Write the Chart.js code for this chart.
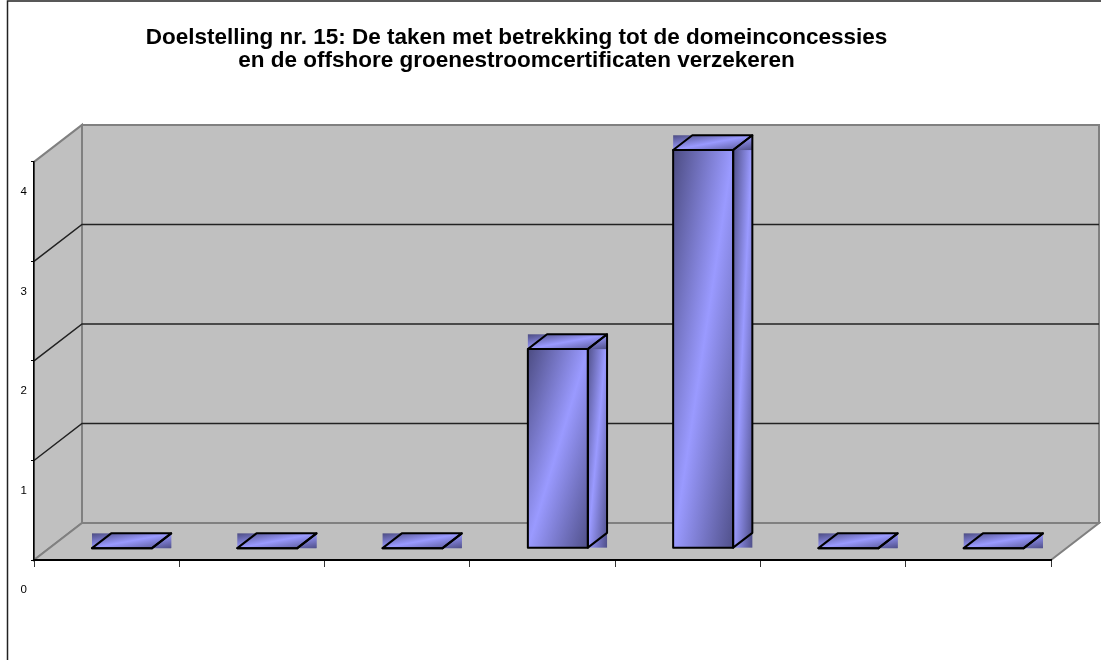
<!DOCTYPE html>
<html>
<head>
<meta charset="utf-8">
<script src="https://cdn.jsdelivr.net/npm/chart.js@4.4.1/dist/chart.umd.min.js"></script>
<style>
  html, body { margin: 0; padding: 0; background: #fff; }
  #wrap { width: 1101px; height: 660px; }
</style>
</head>
<body>
<div id="wrap"><canvas id="myChart" width="1101" height="660"></canvas></div>
<script>
// chart data
const categories = ['1', '2', '3', '4', '5', '6', '7'];
const values = [0, 0, 0, 2, 4, 0, 0];
const yTicks = [0, 1, 2, 3, 4];
const titleLines = [
  'Doelstelling nr. 15: De taken met betrekking tot de domeinconcessies',
  'en de offshore groenestroomcertificaten verzekeren'
];

// 3D depth of the walls (pixels), bar front/back position inside that depth
const DX = 48, DY = -37;
const F0 = 0.32, F1 = 0.72;

function poly(ctx, pts) {
  ctx.beginPath();
  ctx.moveTo(pts[0][0], pts[0][1]);
  for (let i = 1; i < pts.length; i++) ctx.lineTo(pts[i][0], pts[i][1]);
  ctx.closePath();
}

// Excel-like diagonal gradient: dark corners, light band along the diagonal
function diagFill(ctx, x0, y0, x1, y1) {
  const w = x1 - x0, h = y1 - y0;
  if (w <= 0 || h <= 0) return;
  const len = Math.sqrt(w * w + h * h);
  const d = w * h / len;
  const nx = h / len, ny = w / len;
  const cx = (x0 + x1) / 2, cy = (y0 + y1) / 2;
  const g = ctx.createLinearGradient(cx - nx * d, cy - ny * d, cx + nx * d, cy + ny * d);
  g.addColorStop(0, '#4c4c82');
  g.addColorStop(0.5, '#9a9aff');
  g.addColorStop(1, '#50508a');
  ctx.fillStyle = g;
  ctx.fillRect(x0, y0, w, h);
}

const walls3d = {
  id: 'walls3d',
  beforeDraw(chart) {
    const ctx = chart.ctx;
    const a = chart.chartArea;
    const yScale = chart.scales.y;
    ctx.save();
    ctx.fillStyle = '#fff';
    ctx.fillRect(0, 0, chart.width, chart.height);

    // outer frame
    ctx.strokeStyle = '#222';
    ctx.lineWidth = 1.5;
    ctx.beginPath();
    ctx.moveTo(7.5, chart.height);
    ctx.lineTo(7.5, 1);
    ctx.lineTo(chart.width, 1);
    ctx.stroke();

    const L = a.left, R = a.right, T = a.top, B = a.bottom;
    ctx.fillStyle = '#c0c0c0';
    ctx.strokeStyle = '#808080';
    ctx.lineWidth = 2;
    // back wall
    poly(ctx, [[L + DX, T + DY], [R + DX, T + DY], [R + DX, B + DY], [L + DX, B + DY]]);
    ctx.fill(); ctx.stroke();
    // side wall
    poly(ctx, [[L, T], [L + DX, T + DY], [L + DX, B + DY], [L, B]]);
    ctx.fill(); ctx.stroke();
    // floor
    poly(ctx, [[L, B], [R, B], [R + DX, B + DY], [L + DX, B + DY]]);
    ctx.fill(); ctx.stroke();

    // gridlines on the walls
    ctx.strokeStyle = '#222';
    ctx.lineWidth = 1.5;
    yTicks.forEach(function(v) {
      if (v === yTicks[0] || v === yTicks[yTicks.length - 1]) return;
      const py = yScale.getPixelForValue(v);
      ctx.beginPath();
      ctx.moveTo(L, py);
      ctx.lineTo(L + DX, py + DY);
      ctx.lineTo(R + DX, py + DY);
      ctx.stroke();
    });
    ctx.restore();
  },
  afterDatasetsDraw(chart) {
    const ctx = chart.ctx;
    const meta = chart.getDatasetMeta(0);
    const ddx = (F1 - F0) * DX, ddy = (F1 - F0) * DY;
    ctx.save();
    meta.data.forEach(function(bar) {
      const p = bar.getProps(['x', 'y', 'base', 'width'], true);
      const x0 = p.x - p.width / 2 + F0 * DX;
      const x1 = x0 + p.width;
      const yt = p.y + F0 * DY;
      const yb = p.base + F0 * DY;
      // fills (bounding boxes, like the original export)
      diagFill(ctx, x0, yt, x1, yb);
      diagFill(ctx, x1, yt + ddy, x1 + ddx, yb);
      diagFill(ctx, x0, yt + ddy, x1 + ddx, yt);
      // outlines
      ctx.strokeStyle = '#000';
      ctx.lineWidth = 2;
      ctx.lineJoin = 'round';
      poly(ctx, [[x0, yt], [x1, yt], [x1, yb], [x0, yb]]);
      ctx.stroke();
      poly(ctx, [[x0, yt], [x0 + ddx, yt + ddy], [x1 + ddx, yt + ddy], [x1, yt]]);
      ctx.stroke();
      poly(ctx, [[x1, yt], [x1 + ddx, yt + ddy], [x1 + ddx, yb + ddy], [x1, yb]]);
      ctx.stroke();
    });
    ctx.restore();
  }
};

const ctx = document.getElementById('myChart').getContext('2d');
const myChart = new Chart(ctx, {
  type: 'bar',
  data: {
    labels: categories,
    datasets: [{
      data: values,
      backgroundColor: 'rgba(0,0,0,0)',
      borderWidth: 0,
      barPercentage: 0.413,
      categoryPercentage: 1
    }]
  },
  options: {
    responsive: false,
    animation: false,
    devicePixelRatio: 1,
    // negative left padding keeps the title centred like the original
    layout: { padding: { left: -18, right: 50, top: 0, bottom: 0 } },
    plugins: {
      legend: { display: false },
      tooltip: { enabled: false },
      title: {
        display: true,
        text: titleLines,
        color: '#000',
        font: { family: 'Arial, "Liberation Sans", sans-serif', size: 22.5, weight: 'bold', lineHeight: 1.02 },
        padding: { top: 26, bottom: 90 }
      }
    },
    scales: {
      x: {
        ticks: { display: false },
        grid: { drawOnChartArea: false, drawTicks: true, tickLength: 7, color: '#333', offset: true },
        border: { display: true, color: '#000', width: 2 },
        afterFit: function(scale) { scale.height = 100; }
      },
      y: {
        min: 0,
        max: 4,
        ticks: {
          stepSize: 1,
          labelOffset: 30,
          padding: 4,
          color: '#000',
          font: { family: 'Arial, "Liberation Sans", sans-serif', size: 11.5 }
        },
        grid: { drawOnChartArea: false, drawTicks: true, tickLength: 3, color: '#000' },
        border: { display: true, color: '#000', width: 1.5 },
        afterFit: function(scale) { scale.width = 52; }
      }
    }
  },
  plugins: [walls3d]
});
</script>
</body>
</html>
